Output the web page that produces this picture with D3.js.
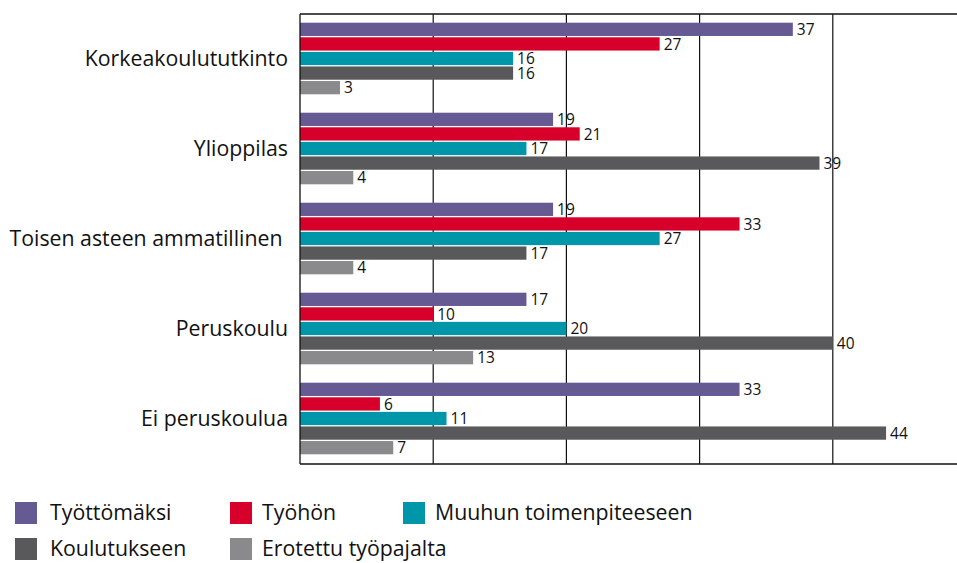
<!DOCTYPE html>
<html><head><meta charset="utf-8">
<script src="https://cdn.jsdelivr.net/npm/d3@7"></script>
<style>body{margin:0;background:#fff}svg{display:block}text{font-family:"Open Sans",sans-serif;fill:#111}</style>
</head><body><div id="c"></div>
<script>
const categories = ["Korkeakoulututkinto","Ylioppilas","Toisen asteen ammatillinen ","Peruskoulu","Ei peruskoulua"];
const seriesNames = ["Työttömäksi","Työhön","Muuhun toimenpiteeseen","Koulutukseen","Erotettu työpajalta"];
const tyottomaksi = [37,19,19,17,33];
const tyohon = [27,21,33,10,6];
const muuhun = [16,17,27,20,11];
const koulutukseen = [16,39,17,40,44];
const erotettu = [3,4,4,13,7];
const ticks = [10,20,30,40];
const colors = ["#665a93","#d7002a","#0096aa","#59595b","#8a8a8c"];

const values = [tyottomaksi,tyohon,muuhun,koulutukseen,erotettu];
const W=957,H=563;
const svg=d3.select("#c").append("svg").attr("width",W).attr("height",H);
const x=d3.scaleLinear().domain([0,50]).range([300,966]);
const y=d3.scaleBand().domain(categories).range([14,464]).padding(0);
const yi=d3.scaleBand().domain(seriesNames).range([8.7,80.3]).paddingInner(0.09);

svg.append("g").selectAll("line").data(ticks).join("line")
 .attr("x1",d=>x(d)).attr("x2",d=>x(d)).attr("y1",14).attr("y2",464)
 .attr("stroke","#111").attr("stroke-width",1.2);

const g=svg.append("g");
categories.forEach((c,ci)=>{
  seriesNames.forEach((s,si)=>{
    const v=values[si][ci];
    const yy=y(c)+yi(s);
    g.append("rect").attr("x",x(0)).attr("y",yy).attr("width",x(v)-x(0)).attr("height",yi.bandwidth()).attr("fill",colors[si]);
    g.append("text").attr("x",x(v)+4).attr("y",yy+yi.bandwidth()/2).attr("dy","0.37em")
     .attr("font-size",15.5).text(v);
  });
  svg.append("text").attr("x",288).attr("y",y(c)+y.bandwidth()/2).attr("dy","0.35em")
   .attr("text-anchor","end").attr("font-size",21.3).style("white-space","pre").text(c);
});
svg.append("line").attr("x1",300).attr("x2",W).attr("y1",14).attr("y2",14).attr("stroke","#111").attr("stroke-width",1.3);
svg.append("line").attr("x1",300).attr("x2",W).attr("y1",464).attr("y2",464).attr("stroke","#111").attr("stroke-width",1.3);
svg.append("line").attr("x1",300).attr("x2",300).attr("y1",14).attr("y2",464).attr("stroke","#111").attr("stroke-width",1.3);

const legPos=[[15,513,50],[230,513,262],[403,513,435],[15,549,50],[230,549,262]];
seriesNames.forEach((s,i)=>{
  const [lx,ly,tx]=legPos[i];
  svg.append("rect").attr("x",lx).attr("y",ly-11).attr("width",22).attr("height",22).attr("fill",colors[i]);
  svg.append("text").attr("x",tx).attr("y",ly).attr("dy","0.35em").attr("font-size",21.3).text(s);
});
</script></body></html>
